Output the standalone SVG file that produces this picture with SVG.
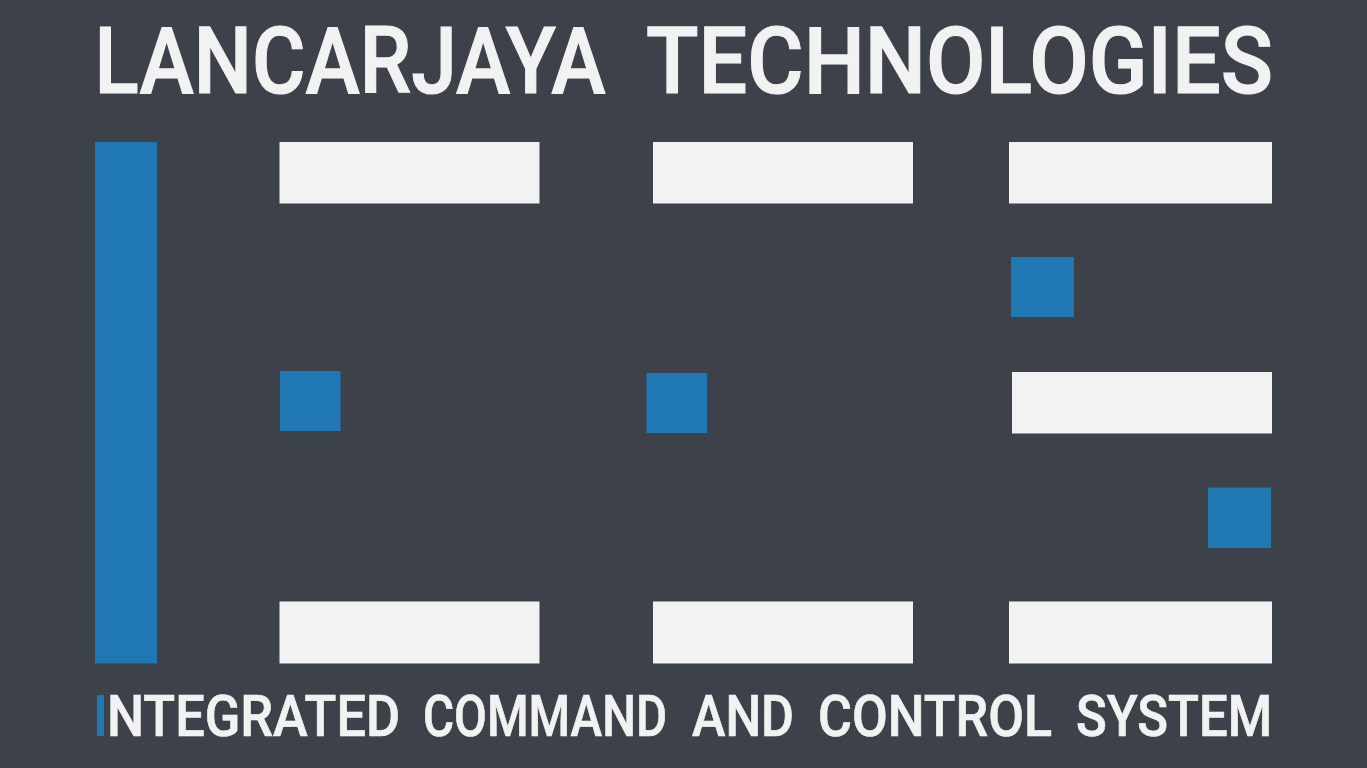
<svg xmlns="http://www.w3.org/2000/svg" width="1367" height="768" viewBox="0 0 1367 768">
<style>
.w{fill:#f2f2f2}.b{fill:#1f77b4}
text{font-family:"Roboto","Liberation Sans",sans-serif;fill:#f2f2f2;stroke:#f2f2f2;font-weight:500}
.t1{font-size:93px;stroke-width:1.2px}
.t2{font-size:56.5px;stroke-width:0.7px}
</style>
<rect width="1367" height="768" fill="#3c414a"/>
<text class="t1" y="92.5"><tspan x="94.5" textLength="511" lengthAdjust="spacingAndGlyphs">LANCARJAYA</tspan> <tspan x="646" textLength="627" lengthAdjust="spacingAndGlyphs">TECHNOLOGIES</tspan></text>
<g id="side"><rect class="b" x="95" y="142" width="62" height="521.5"/></g>
<g id="t1"><rect class="w" x="279.5" y="142" width="260" height="61.5"/></g>
<g id="t2"><rect class="w" x="653" y="142" width="260" height="61.5"/></g>
<g id="t3"><rect class="w" x="1009" y="142" width="263" height="61.5"/></g>
<g id="s1"><rect class="b" x="1011" y="257" width="63" height="60"/></g>
<g id="s2"><rect class="b" x="280" y="371" width="60.5" height="60"/></g>
<g id="s3"><rect class="b" x="646.5" y="373" width="60.5" height="60"/></g>
<g id="m3"><rect class="w" x="1012" y="372" width="260" height="61.5"/></g>
<g id="s4"><rect class="b" x="1208" y="487.5" width="63" height="60.5"/></g>
<g id="b1"><rect class="w" x="279.5" y="601.5" width="260" height="62"/></g>
<g id="b2"><rect class="w" x="653" y="601.5" width="260" height="62"/></g>
<g id="b3"><rect class="w" x="1009" y="601.5" width="263" height="62"/></g>
<g id="bar"><rect class="b" x="97" y="695" width="7" height="41"/></g>
<text class="t2" y="735.5"><tspan x="107" textLength="293" lengthAdjust="spacingAndGlyphs">NTEGRATED</tspan> <tspan x="423" textLength="244" lengthAdjust="spacingAndGlyphs">COMMAND</tspan> <tspan x="692" textLength="102" lengthAdjust="spacingAndGlyphs">AND</tspan> <tspan x="818" textLength="234" lengthAdjust="spacingAndGlyphs">CONTROL</tspan> <tspan x="1076" textLength="196" lengthAdjust="spacingAndGlyphs">SYSTEM</tspan></text>
</svg>
